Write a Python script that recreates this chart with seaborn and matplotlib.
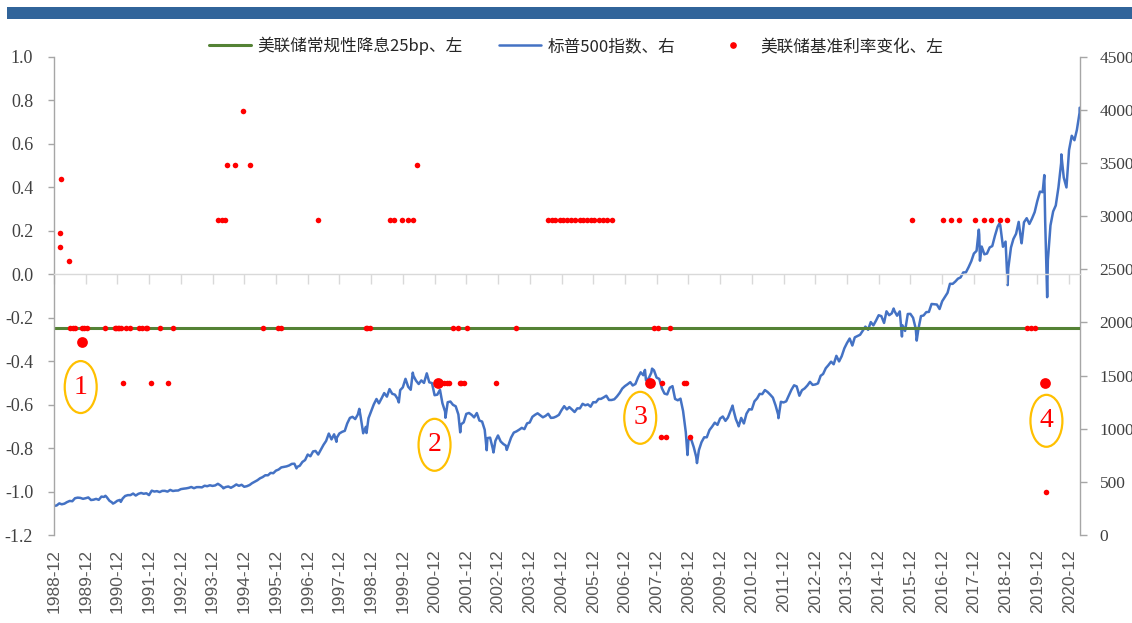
import numpy as np
import pandas as pd
import matplotlib
matplotlib.use("Agg")
import matplotlib.pyplot as plt
import matplotlib.dates as mdates
from matplotlib.patches import Ellipse, Rectangle
from matplotlib.lines import Line2D
from matplotlib.transforms import offset_copy
import seaborn as sns

# ---------------- data ----------------
# S&P 500 month-end closes, Dec 1988 .. Mar 2021
spx_first_month_end = "1988-12-31"
spx_month_end = [
    277.7,
    297.5, 288.9, 294.9, 309.6, 320.5, 317.9, 346.1, 351.5, 349.2, 340.4, 346.0, 353.4,
    329.1, 331.9, 339.9, 330.8, 361.2, 358.0, 356.2, 322.6, 306.1, 304.0, 322.2, 330.2,
    343.9, 367.1, 375.2, 375.3, 389.8, 371.2, 387.8, 395.4, 387.9, 392.5, 375.2, 417.1,
    408.8, 412.7, 403.7, 415.0, 415.4, 408.1, 424.2, 414.0, 417.8, 418.7, 431.4, 435.7,
    438.8, 443.4, 451.7, 440.2, 450.2, 450.5, 448.1, 463.6, 458.9, 467.8, 461.8, 466.5,
    481.6, 467.1, 445.8, 450.9, 456.5, 444.3, 458.3, 475.5, 462.7, 472.4, 453.7, 459.3,
    470.4, 487.4, 500.7, 514.7, 533.4, 544.8, 562.1, 561.9, 584.4, 581.5, 605.4, 615.9,
    636.0, 640.4, 645.5, 654.2, 669.1, 670.6, 640.0, 652.0, 687.3, 705.3, 757.0, 740.7,
    786.2, 790.8, 757.1, 801.3, 848.3, 885.1, 954.3, 899.5, 947.3, 914.6, 955.4, 970.4,
    980.3, 1049.3, 1101.8, 1111.8, 1090.8, 1133.8, 1120.7, 957.3, 1017.0, 1098.7, 1163.6, 1229.2,
    1279.6, 1238.3, 1286.4, 1335.2, 1301.8, 1372.7, 1328.7, 1320.4, 1282.7, 1362.9, 1388.9, 1469.3,
    1394.5, 1366.4, 1498.6, 1452.4, 1420.6, 1454.6, 1430.8, 1517.7, 1436.5, 1429.4, 1315.2, 1320.3,
    1366.0, 1239.9, 1160.3, 1249.5, 1255.8, 1224.4, 1211.2, 1133.6, 1040.9, 1059.8, 1139.5, 1148.1,
    1130.2, 1106.7, 1147.4, 1076.9, 1067.1, 989.8, 911.6, 916.1, 815.3, 885.8, 936.3, 879.8,
    855.7, 841.2, 848.2, 916.9, 963.6, 974.5, 990.3, 1008.0, 996.0, 1050.7, 1058.2, 1111.9,
    1131.1, 1144.9, 1126.2, 1107.3, 1120.7, 1140.8, 1101.7, 1104.2, 1114.6, 1130.2, 1173.8, 1211.9,
    1181.3, 1203.6, 1180.6, 1156.9, 1191.5, 1191.3, 1234.2, 1220.3, 1228.8, 1207.0, 1249.5, 1248.3,
    1280.1, 1280.7, 1294.8, 1310.6, 1270.1, 1270.2, 1276.7, 1303.8, 1335.9, 1377.9, 1400.6, 1418.3,
    1438.2, 1406.8, 1420.9, 1482.4, 1530.6, 1503.4, 1455.3, 1474.0, 1526.8, 1549.4, 1481.1, 1468.4,
    1378.6, 1330.6, 1322.7, 1385.6, 1400.4, 1280.0, 1267.4, 1282.8, 1166.4, 968.8, 896.2, 903.3,
    825.9, 735.1, 797.9, 872.8, 919.1, 919.3, 987.5, 1020.6, 1057.1, 1036.2, 1095.6, 1115.1,
    1073.9, 1104.5, 1169.4, 1186.7, 1089.4, 1030.7, 1101.6, 1049.3, 1141.2, 1183.3, 1180.6, 1257.6,
    1286.1, 1327.2, 1325.8, 1363.6, 1345.2, 1320.6, 1292.3, 1218.9, 1131.4, 1253.3, 1247.0, 1257.6,
    1312.4, 1365.7, 1408.5, 1397.9, 1310.3, 1362.2, 1379.3, 1406.6, 1440.7, 1412.2, 1416.2, 1426.2,
    1498.1, 1514.7, 1569.2, 1597.6, 1630.7, 1606.3, 1685.7, 1633.0, 1681.6, 1756.5, 1805.8, 1848.4,
    1782.6, 1859.5, 1872.3, 1884.0, 1923.6, 1960.2, 1930.7, 2003.4, 1972.3, 2018.1, 2067.6, 2058.9,
    1995.0, 2104.5, 2067.9, 2085.5, 2107.4, 2063.1, 2103.8, 1972.2, 1920.0, 2079.4, 2080.4, 2043.9,
    1940.2, 1932.2, 2059.7, 2065.3, 2097.0, 2098.9, 2173.6, 2171.0, 2168.3, 2126.2, 2198.8, 2238.8,
    2278.9, 2363.6, 2362.7, 2384.2, 2411.8, 2423.4, 2470.3, 2471.7, 2519.4, 2575.3, 2647.6, 2673.6,
    2823.8, 2713.8, 2640.9, 2648.1, 2705.3, 2718.4, 2816.3, 2901.5, 2914.0, 2711.7, 2760.2, 2506.9,
    2704.1, 2784.5, 2834.4, 2945.8, 2752.1, 2941.8, 2980.4, 2926.5, 2976.7, 3037.6, 3141.0, 3230.8,
    3225.5, 2954.2, 2584.6, 2912.4, 3044.3, 3100.3, 3271.1, 3500.3, 3363.0, 3270.0, 3621.6, 3756.1,
    3714.2, 3811.2, 3972.9,
]

# intra-month highs and lows of the index
spx_swing_dates = [
    "1988-12-01", "1990-07-16", "1990-10-11", "1991-01-09", "1994-04-04", "1996-07-24",
    "1997-10-27", "1998-07-17", "1998-10-08", "1999-10-15", "2000-03-24", "2000-09-01",
    "2001-04-04", "2001-09-21", "2002-07-23", "2002-10-09", "2003-03-11", "2007-07-19",
    "2007-10-09", "2008-11-20", "2009-03-09", "2010-04-23", "2010-07-02", "2011-10-03",
    "2015-05-21", "2015-08-25", "2016-02-11", "2018-01-26", "2018-02-08", "2018-09-20",
    "2018-12-24", "2019-06-03", "2020-02-19", "2020-03-23", "2020-09-02", "2021-04-01",
]
spx_swing_values = [
    273.7, 369.0, 295.5, 311.5, 438.9, 626.7,
    877.0, 1186.8, 959.4, 1247.4, 1527.5, 1520.8,
    1103.3, 965.8, 797.7, 776.8, 800.7, 1553.1,
    1565.2, 752.4, 676.5, 1217.3, 1022.6, 1099.2,
    2130.8, 1867.6, 1829.1, 2872.9, 2581.0, 2930.8,
    2351.1, 2744.5, 3386.2, 2237.4, 3580.8, 4019.9,
]

# routine 25bp cut reference level (left axis)
routine_cut = -0.25

# Fed target rate changes, percentage points (left axis)
rate_change_dates = [
    "1989-02-09", "1989-02-10", "1989-02-14", "1989-05-17",
    "1989-06-06", "1989-07-07", "1989-07-27", "1989-10-18", "1989-11-06", "1989-12-20",
    "1990-07-13", "1990-10-29", "1990-11-14", "1990-12-07", "1990-12-18", "1991-01-09",
    "1991-02-01", "1991-03-08", "1991-04-30", "1991-08-06", "1991-09-13", "1991-10-31",
    "1991-11-06", "1991-12-20", "1992-04-09", "1992-07-02", "1992-09-04",
    "1994-02-04", "1994-03-22", "1994-04-18", "1994-05-17", "1994-08-16", "1994-11-15",
    "1995-02-01", "1995-07-06", "1995-12-19", "1996-01-31", "1997-03-25",
    "1998-09-29", "1998-10-15", "1998-11-17",
    "1999-06-30", "1999-08-24", "1999-11-16", "2000-02-02", "2000-03-21", "2000-05-16",
    "2001-01-31", "2001-03-20", "2001-04-18", "2001-05-15", "2001-06-27", "2001-08-21",
    "2001-09-17", "2001-10-02", "2001-11-06", "2001-12-11", "2002-11-06", "2003-06-25",
    "2004-06-30", "2004-08-10", "2004-09-21", "2004-11-10", "2004-12-14",
    "2005-02-02", "2005-03-22", "2005-05-03", "2005-06-30", "2005-08-09", "2005-09-20",
    "2005-11-01", "2005-12-13", "2006-01-31", "2006-03-28", "2006-05-10", "2006-06-29",
    "2007-10-31", "2007-12-11", "2008-01-22", "2008-01-30", "2008-03-18", "2008-04-30",
    "2008-10-08", "2008-10-29", "2008-12-16",
    "2015-12-16", "2016-12-14", "2017-03-15", "2017-06-14", "2017-12-13",
    "2018-03-21", "2018-06-13", "2018-09-26", "2018-12-19",
    "2019-07-31", "2019-09-18", "2019-10-30", "2020-03-15",
]
rate_change_values = [
    0.125, 0.1875, 0.4375, 0.0625,
    -0.25, -0.25, -0.25, -0.25, -0.25, -0.25,
    -0.25, -0.25, -0.25, -0.25, -0.25, -0.25,
    -0.5, -0.25, -0.25, -0.25, -0.25, -0.25,
    -0.25, -0.5, -0.25, -0.5, -0.25,
    0.25, 0.25, 0.25, 0.5, 0.5, 0.75,
    0.5, -0.25, -0.25, -0.25, 0.25,
    -0.25, -0.25, -0.25,
    0.25, 0.25, 0.25, 0.25, 0.25, 0.5,
    -0.5, -0.5, -0.5, -0.5, -0.25, -0.25,
    -0.5, -0.5, -0.5, -0.25, -0.5, -0.25,
    0.25, 0.25, 0.25, 0.25, 0.25,
    0.25, 0.25, 0.25, 0.25, 0.25, 0.25,
    0.25, 0.25, 0.25, 0.25, 0.25, 0.25,
    -0.25, -0.25, -0.75, -0.5, -0.75, -0.25,
    -0.5, -0.5, -0.75,
    0.25, 0.25, 0.25, 0.25, 0.25,
    0.25, 0.25, 0.25, 0.25,
    -0.25, -0.25, -0.25, -1.0,
]

# first moves of the four easing cycles, highlighted and numbered
cycle_start_dates = ["1989-10-16", "2001-01-03", "2007-09-18", "2020-03-03"]
cycle_start_values = [-0.3125, -0.5, -0.5, -0.5]
cycle_labels = ["1", "2", "3", "4"]

left_ticks = [-1.2, -1.0, -0.8, -0.6, -0.4, -0.2, 0.0, 0.2, 0.4, 0.6, 0.8, 1.0]
left_tick_labels = ["-1.2", "-1.0", "-0.8", "-0.6", "-0.4", "-0.2",
                    "0.0", "0.2", "0.4", "0.6", "0.8", "1.0"]
right_ticks = [0, 500, 1000, 1500, 2000, 2500, 3000, 3500, 4000, 4500]
year_tick_labels = [f"{y}-12" for y in range(1988, 2021)]

# ---------------- styling ----------------
GREEN = "#548235"
BLUE = "#4472C4"
RED = "#FF0000"
GOLD = "#FFC000"
AXIS_GREY = "#A6A6A6"
LIGHT_GREY = "#D9D9D9"
TEXT_GREY = "#404040"

sns.set_theme(style="white")
plt.rcParams["font.family"] = ["Noto Sans CJK SC", "DejaVu Sans"]
plt.rcParams["axes.unicode_minus"] = False

W, H = 1132, 623
fig = plt.figure(figsize=(W / 100, H / 100), dpi=100)
fig.patch.set_facecolor("white")

# title band across the top
fig.add_artist(Rectangle((7 / W, 1 - 19 / H), 1 - 7 / W, 12 / H,
                         transform=fig.transFigure, color="#31649A", lw=0))

ax = fig.add_axes([54 / W, 1 - 535 / H, (1080 - 54) / W, (535 - 56.7) / H])
ax2 = ax.twinx()
ax.set_zorder(ax2.get_zorder() + 1)
ax.patch.set_visible(False)

# S&P 500 on the right axis
spx_dates = pd.date_range(spx_first_month_end, periods=len(spx_month_end), freq="ME")
spx = pd.concat([
    pd.DataFrame({"date": spx_dates, "close": spx_month_end}),
    pd.DataFrame({"date": pd.to_datetime(spx_swing_dates), "close": spx_swing_values}),
]).sort_values("date").reset_index(drop=True)
sns.lineplot(data=spx, x="date", y="close", ax=ax2, color=BLUE, linewidth=1.8,
             estimator=None, legend=False)

# routine cut level and rate changes on the left axis
ax.axhline(routine_cut, color=GREEN, linewidth=2.2, zorder=2)
sns.scatterplot(x=pd.to_datetime(rate_change_dates), y=rate_change_values, ax=ax,
                color=RED, s=16, linewidth=0, legend=False, zorder=4)
sns.scatterplot(x=pd.to_datetime(cycle_start_dates), y=cycle_start_values, ax=ax,
                color=RED, s=60, linewidth=0, legend=False, zorder=5)

# numbered rings under each highlighted point (pixel offsets from the point)
ring_offsets = [(-1, -45), (-3, -62), (-10, -35), (1, -38)]
for d, v, lab, (dx, dy) in zip(cycle_start_dates, cycle_start_values, cycle_labels, ring_offsets):
    tr = offset_copy(ax.transData, fig=fig, x=dx, y=dy, units="dots")
    xd = mdates.date2num(pd.Timestamp(d))
    ax.add_patch(Ellipse((xd, v), width=368, height=0.239, transform=tr,
                         fill=False, edgecolor=GOLD, linewidth=1.6, zorder=6))
    ax.text(xd, v, lab, transform=tr, ha="center", va="center", color=RED,
            fontsize=20, family="Liberation Serif", zorder=7)

# limits
x0, x1 = pd.Timestamp("1988-12-01"), pd.Timestamp("2021-04-05")
ax.set_xlim(x0, x1)
ax.set_ylim(-1.2, 1.0)
ax2.set_ylim(0, 4500)

# left axis
ax.set_yticks(left_ticks)
ax.set_yticklabels(left_tick_labels)
ax.tick_params(axis="y", left=True, direction="out", length=4, width=1, color=AXIS_GREY,
               pad=11, labelsize=13, labelcolor=TEXT_GREY, labelfontfamily="Liberation Serif")
for s in ("top", "right"):
    ax.spines[s].set_visible(False)
ax.spines["left"].set_color(AXIS_GREY)
ax.spines["left"].set_linewidth(1)

# category line sits at zero with its ticks; labels go along the bottom
tick_dates = pd.to_datetime([f"{y}-12-01" for y in range(1988, 2021)])
ax.spines["bottom"].set_position(("data", 0))
ax.spines["bottom"].set_color(LIGHT_GREY)
ax.spines["bottom"].set_linewidth(1)
ax.set_xticks(tick_dates)
ax.tick_params(axis="x", bottom=True, direction="out", length=7, width=1,
               color=LIGHT_GREY, labelbottom=False)

sec = ax.secondary_xaxis("bottom")
sec.set_xticks(mdates.date2num(tick_dates))
sec.set_xticklabels(year_tick_labels, rotation=90)
sec.tick_params(axis="x", length=0, pad=10, labelsize=12.5, labelcolor="#595959",
                labelfontfamily="Liberation Sans")
for s in sec.spines.values():
    s.set_visible(False)

# right axis
ax2.set_yticks(right_ticks)
ax2.set_yticklabels([str(v) for v in right_ticks])
ax2.tick_params(axis="y", right=True, direction="out", length=5, width=1, color=AXIS_GREY,
                pad=9, labelsize=12.5, labelcolor=TEXT_GREY, labelfontfamily="Liberation Serif")
for s in ("top", "left", "bottom"):
    ax2.spines[s].set_visible(False)
ax2.spines["right"].set_color(AXIS_GREY)
ax2.spines["right"].set_linewidth(1)

for a in (ax, ax2):
    a.set_xlabel("")
    a.set_ylabel("")
    a.grid(False)

# legend
handles = [
    Line2D([], [], color=GREEN, linewidth=2.2),
    Line2D([], [], color=BLUE, linewidth=1.8),
    Line2D([], [], color=RED, marker="o", linestyle="none", markersize=3.8),
]
labels = ["美联储常规性降息25bp、左", "标普500指数、右", "美联储基准利率变化、左"]
fig.legend(handles, labels, loc="center", bbox_to_anchor=(576 / W, 1 - 46 / H), ncol=3,
           frameon=False, handlelength=2.5, columnspacing=2.2, handletextpad=0.4,
           prop={"family": ["Noto Sans CJK SC", "DejaVu Sans"], "size": 12})

fig.savefig("out.png", dpi=100)
